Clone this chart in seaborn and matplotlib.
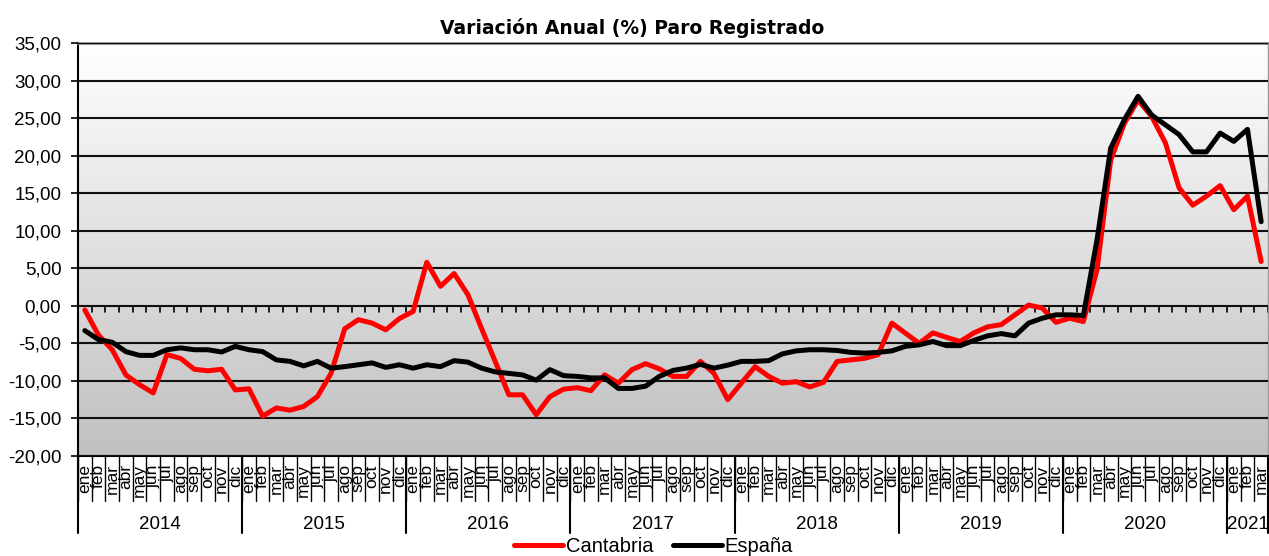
import numpy as np
import pandas as pd
import matplotlib
matplotlib.use('Agg')
import matplotlib.pyplot as plt
import matplotlib.transforms as mtransforms
from matplotlib.colors import LinearSegmentedColormap
import seaborn as sns

# datos
meses = ['ene', 'feb', 'mar', 'abr', 'may', 'jun', 'jul', 'ago', 'sep', 'oct', 'nov', 'dic']
anios = ['2014', '2015', '2016', '2017', '2018', '2019', '2020', '2021']
meses_por_anio = [12, 12, 12, 12, 12, 12, 12, 3]

cantabria = [
    -0.55, -3.9, -5.85, -9.2, -10.5, -11.6, -6.5, -7.0, -8.45, -8.65, -8.45, -11.2,
    -11.05, -14.7, -13.6, -13.9, -13.4, -12.1, -9.0, -3.05, -1.85, -2.3, -3.2, -1.7,
    -0.75, 5.8, 2.6, 4.3, 1.5, -3.0, -7.4, -11.85, -11.85, -14.5, -12.1, -11.1,
    -10.9, -11.3, -9.2, -10.3, -8.5, -7.7, -8.4, -9.4, -9.4, -7.4, -9.0, -12.5,
    -10.3, -8.1, -9.4, -10.3, -10.1, -10.8, -10.2, -7.4, -7.2, -7.0, -6.5, -2.3,
    -3.65, -5.0, -3.6, -4.2, -4.75, -3.6, -2.8, -2.5, -1.2, 0.1, -0.3, -2.2,
    -1.65, -2.1, 4.8, 19.4, 24.3, 27.4, 25.2, 21.7, 15.7, 13.4, 14.6, 16.0,
    12.8, 14.6, 5.9,
]
espana = [
    -3.3, -4.5, -4.85, -6.1, -6.6, -6.6, -5.85, -5.6, -5.85, -5.85, -6.15, -5.4,
    -5.85, -6.1, -7.2, -7.4, -8.0, -7.4, -8.3, -8.1, -7.85, -7.6, -8.2, -7.85,
    -8.3, -7.85, -8.1, -7.3, -7.5, -8.3, -8.8, -9.0, -9.2, -9.9, -8.5, -9.3,
    -9.4, -9.6, -9.6, -11.0, -11.0, -10.7, -9.4, -8.6, -8.3, -7.8, -8.3, -7.9,
    -7.4, -7.4, -7.3, -6.4, -6.0, -5.85, -5.85, -5.95, -6.2, -6.3, -6.2, -6.0,
    -5.4, -5.2, -4.75, -5.3, -5.3, -4.6, -4.0, -3.7, -4.0, -2.3, -1.65, -1.2,
    -1.2, -1.3, 8.8, 21.0, 24.8, 27.9, 25.4, 24.1, 22.8, 20.5, 20.5, 23.0,
    21.9, 23.5, 11.2,
]

etiquetas = []
for n in meses_por_anio:
    etiquetas += meses[:n]
n_pts = len(etiquetas)

df = pd.DataFrame({
    'idx': list(range(n_pts)) * 2,
    'valor': cantabria + espana,
    'serie': ['Cantabria'] * n_pts + ['España'] * n_pts,
})

sns.set_style('white')
plt.rcParams['font.family'] = ['Liberation Sans', 'DejaVu Sans']
plt.rcParams['text.color'] = 'black'
plt.rcParams['xtick.color'] = 'black'
plt.rcParams['ytick.color'] = 'black'

fig = plt.figure(figsize=(12.69, 5.56), dpi=100)
ax = fig.add_axes([78 / 1269, 1 - 456 / 556, 1190 / 1269, 413 / 556])

# fondo degradado
cmap = LinearSegmentedColormap.from_list('fondo', ['#c0c0c0', '#ffffff'])
ax.imshow(np.linspace(0, 1, 256).reshape(-1, 1), cmap=cmap, origin='lower',
          extent=[-0.5, n_pts - 0.5, -20, 35], aspect='auto', zorder=0)

sns.lineplot(data=df, x='idx', y='valor', hue='serie',
             palette={'Cantabria': '#ff0000', 'España': '#000000'},
             linewidth=3.6, ax=ax, zorder=3, sort=False)

ax.set_xlim(-0.5, n_pts - 0.5)
ax.set_ylim(-20, 35)
ax.set_xlabel('')
ax.set_ylabel('')

# eje y
yt = np.arange(-20, 36, 5)
ax.set_yticks(yt)
ax.set_yticklabels([f'{v:.2f}'.replace('.', ',') for v in yt], fontsize=13.5, color='black')
ax.grid(axis='y', color='#111111', linewidth=1.5)
ax.set_axisbelow(False)
for gl in ax.get_ygridlines():
    gl.set_zorder(1)
ax.tick_params(axis='y', left=True, length=5, width=1.2, color='black', pad=7)

# eje x: meses
ax.set_xticks(range(n_pts))
ax.set_xticklabels(etiquetas, rotation=90, fontsize=12.5, va='top', color='black')
ax.tick_params(axis='x', bottom=False, length=0, pad=6)

for s in ['left', 'bottom']:
    ax.spines[s].set_color('black')
    ax.spines[s].set_linewidth(1.5)
ax.spines['top'].set_color('#888888')
ax.spines['top'].set_linewidth(2)
ax.spines['right'].set_color('#999999')
ax.spines['right'].set_linewidth(1)

# marcas en el eje 0
for k in range(n_pts + 1):
    ax.plot([k - 0.5, k - 0.5], [0, -0.8], color='black', lw=1.2, zorder=2)

# separadores y etiquetas de años
trans = mtransforms.blended_transform_factory(ax.transData, ax.transAxes)
for k in range(n_pts + 1):
    ax.plot([k - 0.5, k - 0.5], [0, -0.109], color='black', lw=1, transform=trans, clip_on=False)
inicio = 0
for anio, n in zip(anios, meses_por_anio):
    ax.plot([inicio - 0.5, inicio - 0.5], [0, -0.186], color='black', lw=1.5, transform=trans, clip_on=False)
    ax.text(inicio + (n - 1) / 2, -0.165, anio, transform=trans, ha='center', va='center',
            fontsize=13.5, color='black')
    inicio += n
ax.plot([n_pts - 0.5, n_pts - 0.5], [0, -0.186], color='black', lw=1.5, transform=trans, clip_on=False)

# leyenda
handles, labels = ax.get_legend_handles_labels()
ax.get_legend().remove()
fig.legend(handles, labels, loc='center', bbox_to_anchor=(0.515, 1 - 547 / 556), ncol=2,
           frameon=False, fontsize=14.5, handlelength=2.4, handletextpad=0.15, columnspacing=1.0,
           labelcolor='black')

fig.text(0.498, 1 - 28 / 556, 'Variación Anual (%) Paro Registrado', ha='center', va='center',
         fontsize=13.5, fontweight='bold', family='DejaVu Sans', color='black')

fig.savefig('out.png', dpi=100)
